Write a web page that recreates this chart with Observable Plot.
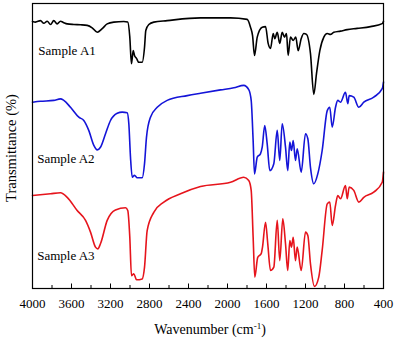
<!DOCTYPE html>
<html><head><meta charset="utf-8">
<script src="https://cdn.jsdelivr.net/npm/d3@7"></script>
<script src="https://cdn.jsdelivr.net/npm/@observablehq/plot@0.6"></script>
<style>body{margin:0;background:#fff}</style>
</head><body><div id="chart"></div>
<script>
// Wavenumber (cm-1) and transmittance (arbitrary, offset)
const wnA1 = [4000,3969,3918,3884,3849,3815,3782,3747,3713,3679,3644,3576,3508,3439,3388,3336,3285,3234,3166,3064,3023,3002,2985,2967,2954,2933,2910,2875,2851,2838,2807,2756,2619,2277,1969,1798,1764,1743,1723,1695,1644,1610,1583,1559,1531,1515,1490,1464,1439,1415,1395,1378,1354,1326,1300,1275,1244,1217,1190,1149,1115,1087,1053,1012,977,944,910,841,772,670,533,413,400];
const tA1  = [89,88.8,89.3,88.4,89.1,88,89.3,88.2,89.1,88.6,88.2,88,87.9,87.7,86.9,85.4,86.6,88.2,88.8,89,88.8,83.8,74.9,79.3,77.7,76.7,75.4,75.4,80.4,86,88,88.8,89.3,90.2,90.2,89.7,87.1,84.3,77.7,83.8,87.1,87.3,81.7,80,85,83.3,85.4,81.7,85.4,83.8,85,77.7,83.8,82.7,83.8,79.3,83.3,85,84.7,78.3,64.7,71.7,79.3,83.8,85,84.7,85.4,85.8,86.3,86.7,87.3,88.3,89.1];

const wnA2 = [4000,3918,3782,3713,3679,3610,3525,3474,3423,3371,3336,3303,3251,3200,3131,3080,3029,3012,2995,2977,2954,2926,2875,2851,2831,2790,2721,2619,2413,2277,2072,1935,1833,1782,1757,1737,1723,1695,1662,1644,1618,1593,1566,1525,1490,1464,1439,1405,1382,1361,1344,1326,1303,1285,1244,1200,1176,1149,1115,1074,1029,977,951,926,892,869,841,790,766,752,705,653,602,500,413,400];
const tA2  = [62.1,62.4,62.7,63.2,62.7,60.4,57.1,56,52.7,47.7,46.2,47.1,51.6,56,58.4,58.8,58.6,54.9,43.8,37.1,37.7,36.9,36.9,41.6,50.4,57.1,60.4,62.7,64.3,65.1,66.2,66.9,67.7,66.3,62.7,49.3,38.2,43.8,44.9,47.1,54.3,48.2,39.3,41.6,52.7,42.7,54.9,47.1,39.3,48.8,46,49.3,42.7,46.6,38.8,51.6,49.9,40.4,34.9,38.2,46,59.3,60.4,53.8,60.4,62.7,62.1,65.4,61.6,64.3,63.8,60.4,62.1,63.8,66.6,68.8];

const wnA3 = [4000,3815,3713,3644,3542,3456,3405,3354,3330,3303,3234,3149,3046,3023,3002,2985,2961,2933,2875,2851,2824,2756,2653,2482,2277,1969,1833,1782,1757,1737,1720,1690,1654,1641,1610,1587,1559,1525,1490,1464,1433,1405,1382,1361,1344,1326,1303,1285,1244,1200,1176,1149,1108,1064,1029,977,951,926,892,869,841,790,772,752,705,653,602,500,413,400];
const tA3  = [31,31.6,31.9,30.4,26,22.7,18.8,13.8,13.2,14.9,22.7,26.2,26.9,26,17.1,4.3,4.9,2.9,3.2,7.1,19.3,25.4,28.8,31.6,34,35.4,37.1,36,32.7,17.1,3.8,10.4,11.6,13.8,22.1,14.9,6,7.1,22.7,9.3,23.2,14.9,6,16,13.8,17.1,9.3,13.8,6,18.8,17.7,8.2,0.7,3.8,12.7,28.2,28.8,21,27.7,31,29.9,34.3,29.9,33.8,32.7,28.8,30.4,32.1,35.4,38.8];

const sampleNames = ["Sample A1", "Sample A2", "Sample A3"];
const labelWn = [3940, 3952, 3952];
const labelT = [79.3, 43.2, 11];

const majorTicks = [4000,3600,3200,2800,2400,2000,1600,1200,800,400];
const minorTicks = [3800,3400,3000,2600,2200,1800,1400,1000,600];

const toRows = (wn, t) => wn.map((w, i) => ({wn: w, t: t[i]}));
const labels = sampleNames.map((s, i) => ({name: s, wn: labelWn[i], t: labelT[i]}));

const font = "'Liberation Serif', 'Times New Roman', serif";
const W = 395, H = 341, mT = 3, mB = 53, mL = 32, mR = 12;

const chart = Plot.plot({
  width: W, height: H,
  marginTop: mT, marginBottom: mB, marginLeft: mL, marginRight: mR,
  style: {fontFamily: font, fontSize: "13px", color: "#000", background: "#fff"},
  x: {domain: [4000, 400], label: null},
  y: {domain: [0, 95], label: null, axis: null},
  marks: [
    Plot.line(toRows(wnA1, tA1), {x: "wn", y: "t", stroke: "#000", strokeWidth: 1.6, curve: "monotone-x"}),
    Plot.line(toRows(wnA2, tA2), {x: "wn", y: "t", stroke: "#1414d8", strokeWidth: 1.6, curve: "monotone-x"}),
    Plot.line(toRows(wnA3, tA3), {x: "wn", y: "t", stroke: "#e6141c", strokeWidth: 1.6, curve: "monotone-x"}),
    Plot.text(labels, {x: "wn", y: "t", text: "name", textAnchor: "start", fontSize: 13, fill: "#000"}),
    Plot.tickX(majorTicks, {x: d => d, insetTop: H - mT - mB - 4.5, stroke: "#000"}),
    Plot.tickX(minorTicks, {x: d => d, insetTop: H - mT - mB - 3, stroke: "#000"}),
    Plot.axisX(majorTicks, {tickSize: 0, tickPadding: 10, fontSize: 13, label: null, tickFormat: d3.format("d")}),
    Plot.frame({stroke: "#000", strokeWidth: 1.2})
  ]
});

const svg = d3.select(chart);
const xl = svg.append("text")
  .attr("x", 210).attr("y", 334)
  .attr("text-anchor", "middle")
  .attr("font-family", font).attr("font-size", 14).attr("fill", "#000");
xl.append("tspan").text("Wavenumber (cm");
xl.append("tspan").attr("dy", -5).attr("font-size", 9).text("-1");
xl.append("tspan").attr("dy", 5).text(")");

svg.append("text")
  .attr("transform", "translate(16,148) rotate(-90)")
  .attr("text-anchor", "middle")
  .attr("font-family", font).attr("font-size", 14.5).attr("fill", "#000")
  .text("Transmittance (%)");

document.getElementById("chart").appendChild(chart);
</script>
</body></html>
